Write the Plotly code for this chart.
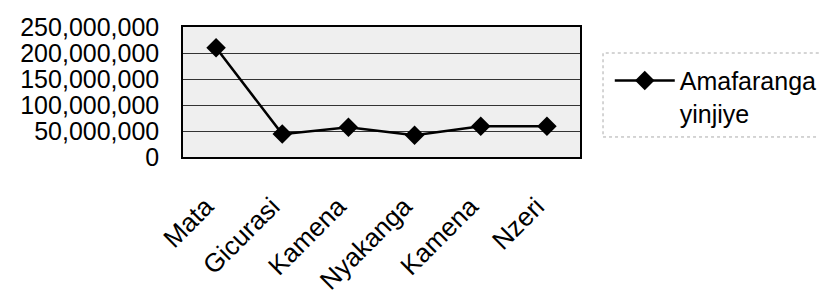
import plotly.graph_objects as go

categories = ["Mata", "Gicurasi", "Kamena", "Nyakanga", "Kamena ", "Nzeri"]
x_tick_labels = ["Mata", "Gicurasi", "Kamena", "Nyakanga", "Kamena", "Nzeri"]
values = [210000000, 44000000, 57000000, 42000000, 59000000, 59000000]
series_name = "Amafaranga<br>yinjiye"
y_ticks = [0, 50000000, 100000000, 150000000, 200000000, 250000000]
y_tick_labels = ["0", "50,000,000", "100,000,000", "150,000,000", "200,000,000", "250,000,000"]

FONT = "Liberation Sans, Arial, sans-serif"

fig = go.Figure()
fig.add_trace(go.Scatter(
    x=categories, y=values, mode="lines+markers", name=series_name,
    line=dict(color="black", width=2.5),
    marker=dict(symbol="diamond", size=15, color="black"),
    showlegend=True,
))

fig.update_layout(
    width=827, height=294,
    margin=dict(l=175, r=255, t=19, b=145, autoexpand=False),
    paper_bgcolor="white", plot_bgcolor="#efefef",
    font=dict(family=FONT, size=24, color="black"),
    showlegend=True,
    legend=dict(x=1.075, y=0.763, xanchor="left", yanchor="top",
                font=dict(size=25, family=FONT), valign="top",
                itemwidth=60, bgcolor="rgba(0,0,0,0)",
                tracegroupgap=0),
    xaxis=dict(type="category", range=[-0.5, 5.5], tickangle=-45,
               tickvals=categories,
               ticktext=[t + "\u00a0\u00a0" for t in x_tick_labels],
               showgrid=False, showline=True, linecolor="black", linewidth=1.5,
               mirror=True, ticks="", tickfont=dict(size=26),
               ticklabelstandoff=12, automargin=False,
               zeroline=False, fixedrange=True),
    yaxis=dict(range=[0, 250000000], tickvals=y_ticks, ticktext=y_tick_labels,
               showgrid=True, gridcolor="#333333", gridwidth=1,
               showline=True, linecolor="black", linewidth=1.5, mirror=True,
               ticks="", ticklabelstandoff=17, zeroline=False, automargin=False,
               tickfont=dict(size=25), fixedrange=True),
)

fig.add_shape(type="rect", xref="paper", yref="paper",
              x0=1.058, x1=1.7, y0=0.154, y1=0.8,
              line=dict(color="#aaaaaa", width=1, dash="dot"),
              fillcolor="rgba(0,0,0,0)")

fig.write_html("out.html")
